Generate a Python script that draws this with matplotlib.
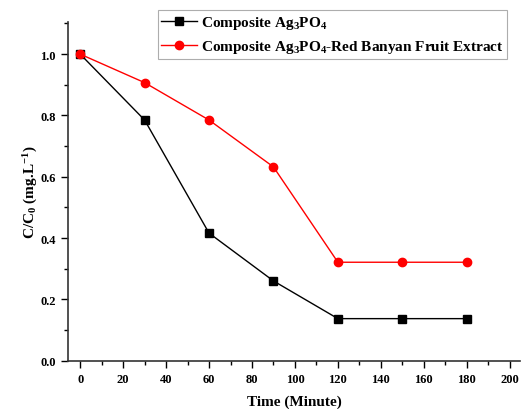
import matplotlib
matplotlib.use("Agg")
import matplotlib.pyplot as plt
from matplotlib import ticker

# data
time_min = [0, 30, 60, 90, 120, 150, 180]
ag3po4 = [1.0, 0.785, 0.416, 0.26, 0.137, 0.137, 0.137]
ag3po4_banyan = [1.0, 0.907, 0.785, 0.632, 0.321, 0.321, 0.321]
labels = ["Composite Ag$_3$PO$_4$",
          "Composite Ag$_3$PO$_4$-Red Banyan Fruit Extract"]

plt.rcParams['font.family'] = 'Liberation Serif'
plt.rcParams['font.weight'] = 'bold'
plt.rcParams['mathtext.fontset'] = 'custom'
plt.rcParams['mathtext.rm'] = 'Liberation Serif:bold'
plt.rcParams['mathtext.it'] = 'Liberation Serif:bold'
plt.rcParams['mathtext.bf'] = 'Liberation Serif:bold'

fig = plt.figure(figsize=(5.22, 4.10), dpi=100)
ax = fig.add_axes([0.131, 0.118, 0.866, 0.826])

ax.plot(time_min, ag3po4, color='black', lw=1, marker='s', ms=6,
        label=labels[0])
ax.plot(time_min, ag3po4_banyan, color='red', lw=1, marker='o', ms=6,
        label=labels[1])

ax.set_xlim(-5.5, 205)
ax.set_ylim(0, 1.105)
ax.xaxis.set_major_locator(ticker.MultipleLocator(20))
ax.xaxis.set_minor_locator(ticker.MultipleLocator(10))
ax.yaxis.set_major_locator(ticker.MultipleLocator(0.2))
ax.yaxis.set_minor_locator(ticker.MultipleLocator(0.1))
ax.yaxis.set_major_formatter(ticker.FormatStrFormatter('%.1f'))

ax.spines['top'].set_visible(False)
ax.spines['right'].set_visible(False)
for s in ('left', 'bottom'):
    ax.spines[s].set_linewidth(1.2)
    ax.spines[s].set_color('#333333')
ax.tick_params(which='major', direction='out', length=5, width=1,
               labelsize=9, pad=4)
ax.tick_params(which='minor', direction='out', length=3, width=1)

ax.set_xlabel("Time (Minute)", fontsize=11, fontweight='bold', labelpad=7)
ax.set_ylabel("C/C$_0$ (mg.L$^{-1}$)", fontsize=11, fontweight='bold',
              labelpad=0)

leg = ax.legend(loc='upper right', bbox_to_anchor=(0.972, 0.972),
                bbox_transform=fig.transFigure, fontsize=11,
                fancybox=False, frameon=True, borderaxespad=0,
                handlelength=2.3, handletextpad=0.3, labelspacing=0.45,
                borderpad=0.25)
leg.get_frame().set_edgecolor('#999999')
leg.get_frame().set_linewidth(0.8)

fig.savefig("out.png", dpi=100)
